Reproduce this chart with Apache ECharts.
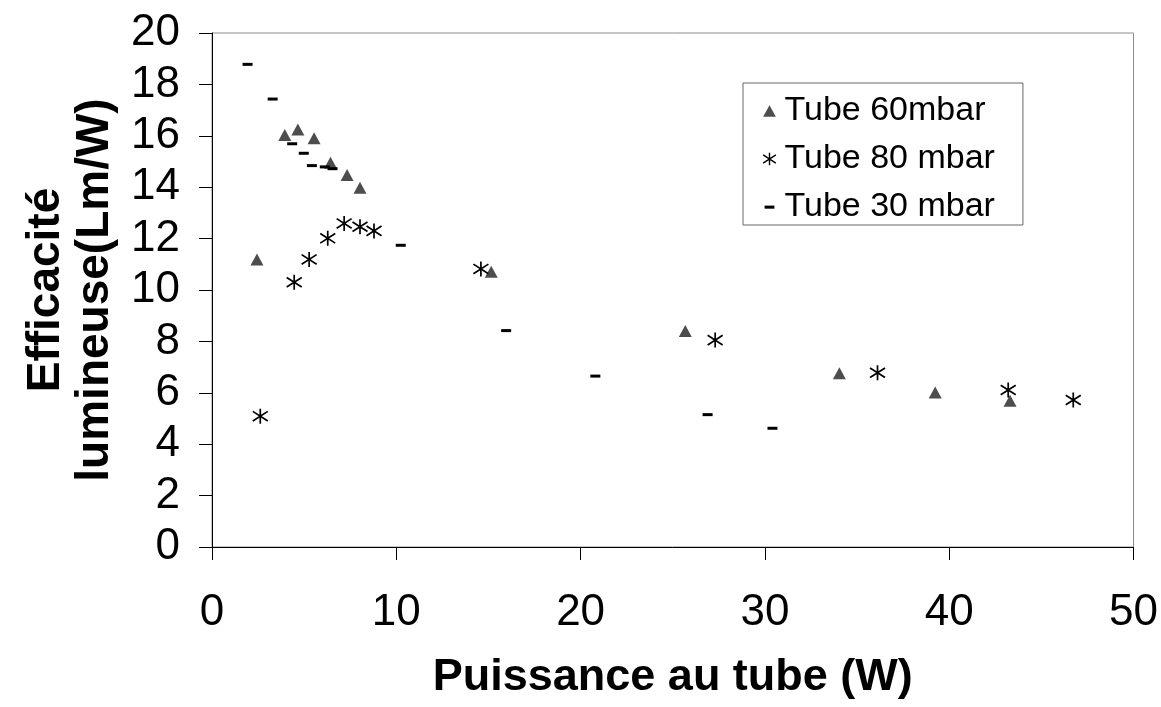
<!DOCTYPE html>
<html>
<head>
<meta charset="utf-8">
<script src="https://cdn.jsdelivr.net/npm/echarts@6/dist/echarts.min.js"></script>
<style>
  html, body { margin: 0; padding: 0; background: #fff; }
  #chart { width: 1161px; height: 707px; }
</style>
</head>
<body>
<div id="chart"></div>
<script>
// Luminous efficacy vs. tube power, three fill pressures
const seriesNames = ['Tube 60mbar', 'Tube 80 mbar', 'Tube 30 mbar'];

const tube60 = [
  [2.44, 11.19], [3.95, 16.03], [4.66, 16.25], [5.54, 15.90], [6.43, 14.95],
  [7.33, 14.47], [8.03, 13.98], [15.15, 10.71], [25.68, 8.40], [34.04, 6.76],
  [39.24, 6.01], [43.30, 5.69]
];

const tube80 = [
  [2.62, 5.09], [4.46, 10.30], [5.27, 11.19], [6.28, 12.01], [7.17, 12.59],
  [8.03, 12.46], [8.79, 12.30], [14.59, 10.82], [27.30, 8.05], [36.11, 6.78],
  [43.20, 6.11], [46.73, 5.72]
];

const tube30 = [
  [1.93, 18.78], [3.29, 17.43], [4.35, 15.69], [4.98, 15.32], [5.42, 14.84],
  [6.12, 14.79], [6.54, 14.72], [10.24, 11.74], [15.96, 8.42], [20.80, 6.65],
  [26.89, 5.15], [30.41, 4.62]
];

const xTitle = 'Puissance au tube (W)';
const yTitle = 'Efficacité\nlumineuse(Lm/W)';

const FONT = '"Liberation Sans", Arial, sans-serif';

// Six-armed asterisk: vertical stroke plus two diagonals
const starPath = 'path://M5,0 L5,10 M0,1.8 L10,8.2 M0,8.2 L10,1.8';
// Padded variants for the legend icons (moveTo points widen the bounding box)
const starLegend = 'path://M-0.5,-0.5 M10.5,10.5 M5,0 L5,10 M0,1.8 L10,8.2 M0,8.2 L10,1.8';
const dashLegend = 'path://M0,0 M10,10 M1.5,4 L8.5,4 L8.5,6.2 L1.5,6.2 Z';
const triLegend = 'path://M-0.5,-0.5 M10.5,10.5 M5,0.5 L10,9.5 L0,9.5 Z';

const chart = echarts.init(document.getElementById('chart'), null, { renderer: 'canvas' });

chart.setOption({
  animation: false,
  backgroundColor: '#ffffff',
  textStyle: { fontFamily: FONT },
  grid: {
    left: 212, right: 26, top: 33, bottom: 160,
    show: true, borderColor: '#8c8c8c', borderWidth: 1, backgroundColor: 'transparent'
  },
  legend: {
    orient: 'vertical',
    left: 743, top: 83,
    padding: [10, 28, 0, 17],
    itemGap: 12,
    itemWidth: 14, itemHeight: 14,
    borderColor: '#666', borderWidth: 1,
    backgroundColor: '#fff',
    textStyle: { fontFamily: FONT, fontSize: 34, color: '#000', lineHeight: 36, padding: [0, 0, 0, 3] },
    data: [
      { name: seriesNames[0], icon: triLegend, itemStyle: { color: '#4d4d4d' } },
      { name: seriesNames[1], icon: starLegend, itemStyle: { color: 'none', borderColor: '#000', borderWidth: 1.4 } },
      { name: seriesNames[2], icon: dashLegend, itemStyle: { color: '#000' } }
    ]
  },
  xAxis: {
    type: 'value', min: 0, max: 50, interval: 10,
    name: xTitle, nameLocation: 'middle', nameGap: 108,
    nameTextStyle: { fontFamily: FONT, fontSize: 45, fontWeight: 'bold', color: '#000', lineHeight: 45 },
    axisLine: { show: true, onZero: false, lineStyle: { color: '#000', width: 1 } },
    axisTick: { show: true, length: 13, lineStyle: { color: '#000' } },
    axisLabel: { fontFamily: FONT, fontSize: 44, color: '#000', margin: 44 },
    splitLine: { show: false }
  },
  yAxis: {
    type: 'value', min: 0, max: 20, interval: 2,
    name: yTitle, nameLocation: 'middle', nameGap: 89, nameRotate: 90,
    nameTextStyle: { fontFamily: FONT, fontSize: 46, fontWeight: 'bold', color: '#000', lineHeight: 49, align: 'center' },
    axisLine: { show: true, onZero: false, lineStyle: { color: '#000', width: 1 } },
    axisTick: { show: true, length: 13, lineStyle: { color: '#000' } },
    axisLabel: { fontFamily: FONT, fontSize: 44, color: '#000', margin: 32 },
    splitLine: { show: false }
  },
  series: [
    {
      name: seriesNames[0], type: 'scatter', data: tube60,
      symbol: 'triangle', symbolSize: [13, 12],
      itemStyle: { color: '#4d4d4d', opacity: 1 }
    },
    {
      name: seriesNames[1], type: 'scatter', data: tube80,
      symbol: starPath, symbolSize: [15, 15],
      itemStyle: { color: 'none', borderColor: '#000', borderWidth: 1.7, opacity: 1 }
    },
    {
      name: seriesNames[2], type: 'scatter', data: tube30,
      symbol: 'rect', symbolSize: [10, 3],
      itemStyle: { color: '#000', opacity: 1 }
    }
  ]
});
</script>
</body>
</html>
